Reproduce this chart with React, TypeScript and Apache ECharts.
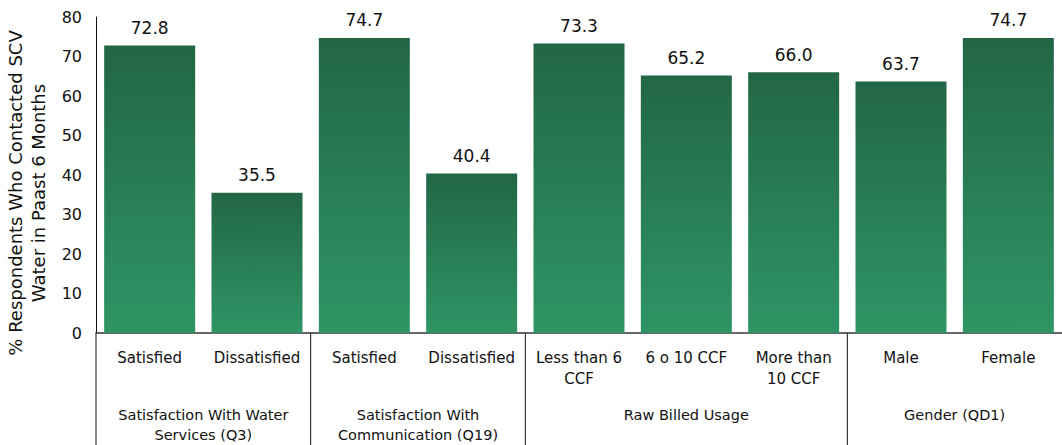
import React, { useEffect, useRef } from "react";
import * as echarts from "echarts";

const categories = [
  "Satisfied",
  "Dissatisfied",
  "Satisfied",
  "Dissatisfied",
  "Less than 6\nCCF",
  "6 o 10 CCF",
  "More than\n10 CCF",
  "Male",
  "Female",
];
const values = [72.8, 35.5, 74.7, 40.4, 73.3, 65.2, 66.0, 63.7, 74.7];
const groupLabels = [
  "Satisfaction With Water\nServices (Q3)",
  "Satisfaction With\nCommunication (Q19)",
  "Raw Billed Usage",
  "Gender (QD1)",
];
const groupSizes = [2, 2, 3, 2];
const yTicks = { min: 0, max: 80, interval: 10 };
const yTitle = "% Respondents Who Contacted SCV\nWater in Paast 6 Months";

const FONT = "DejaVu Sans";

export default function App() {
  const ref = useRef<HTMLDivElement>(null);
  useEffect(() => {
    document.body.style.margin = "0";
    const chart = echarts.init(ref.current!, null, { renderer: "svg" });
    chart.setOption({
      animation: false,
      grid: {
        left: 96,
        right: 0,
        top: 17,
        bottom: 112,
        containLabel: false,
        outerBoundsMode: "none",
      },
      xAxis: {
        type: "category",
        data: categories,
        axisLine: { show: true, lineStyle: { color: "#333", width: 1.5 } },
        axisTick: { show: false },
        axisLabel: {
          interval: 0,
          margin: 14,
          fontFamily: FONT,
          fontSize: 15,
          lineHeight: 21,
          color: "#111",
          verticalAlign: "top",
        },
      },
      yAxis: {
        type: "value",
        min: yTicks.min,
        max: yTicks.max,
        interval: yTicks.interval,
        splitLine: { show: false },
        axisTick: { show: false },
        axisLine: { show: true, lineStyle: { color: "#111", width: 1 } },
        axisLabel: { fontFamily: FONT, fontSize: 16, color: "#111", margin: 14 },
        name: yTitle,
        nameLocation: "middle",
        nameRotate: 90,
        nameGap: 46,
        nameTextStyle: {
          fontFamily: FONT,
          fontSize: 18,
          lineHeight: 23,
          color: "#111",
          padding: [0, 36, 0, 0],
        },
      },
      series: [
        {
          type: "bar",
          data: values,
          barWidth: 91,
          itemStyle: {
            color: new echarts.graphic.LinearGradient(0, 0, 0, 1, [
              { offset: 0, color: "#226646" },
              { offset: 1, color: "#2F9565" },
            ]),
          },
          label: {
            show: true,
            position: "top",
            distance: 9,
            fontFamily: FONT,
            fontSize: 17,
            color: "#111",
            formatter: (p: any) => Number(p.value).toFixed(1),
          },
        },
      ],
    });

    const cx = (i: number) => chart.convertToPixel({ xAxisIndex: 0 }, i) as number;
    const y0 = chart.convertToPixel({ yAxisIndex: 0 }, 0) as number;
    const half = (cx(1) - cx(0)) / 2;
    const elements: any[] = [];
    let start = 0;
    groupSizes.forEach((size, g) => {
      const end = start + size - 1;
      const left = cx(start) - half;
      const right = cx(end) + half;
      elements.push({
        type: "line",
        shape: { x1: left, y1: y0, x2: left, y2: 445 },
        style: { stroke: "#111", lineWidth: 1 },
      });
      elements.push({
        type: "text",
        x: (left + right) / 2,
        y: 405,
        style: {
          text: groupLabels[g],
          fontFamily: FONT,
          fontSize: 14.5,
          lineHeight: 20,
          fill: "#111",
          align: "center",
          verticalAlign: "top",
        },
      });
      start += size;
    });
    chart.setOption({ graphic: elements });

    return () => chart.dispose();
  }, []);
  return <div ref={ref} style={{ width: 1062, height: 445 }} />;
}
